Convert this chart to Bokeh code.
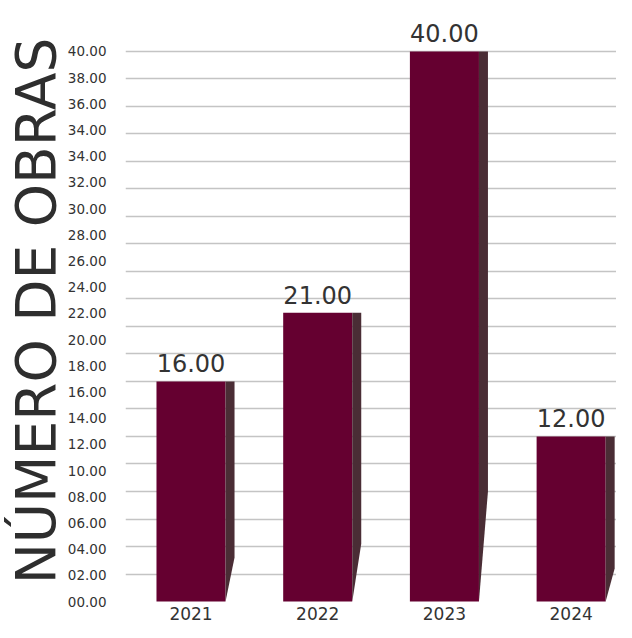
import numpy as np
from bokeh.plotting import figure
from bokeh.models import FixedTicker, Range1d, CustomJSTickFormatter, LabelSet, ColumnDataSource
from bokeh.embed import file_html
from bokeh.resources import INLINE
from bokeh.core.properties import value

# ---- data ----
years = ["2021", "2022", "2023", "2024"]
obras = [16, 21, 40, 12]
y_tick_labels = ["00.00", "02.00", "04.00", "06.00", "08.00", "10.00", "12.00",
                 "14.00", "16.00", "18.00", "20.00", "22.00", "24.00", "26.00",
                 "28.00", "30.00", "32.00", "34.00", "34.00", "36.00", "38.00",
                 "40.00"]
grid_values = list(range(2, 41, 2))
y_title = "NÚMERO DE OBRAS"

FONT = "DejaVu Sans"
BAR = "#650030"
SHADE = "#4a2d35"
TXT = "#333333"

y_max = 40
idx = list(range(len(years)))
bar_w = 0.545
shade_w = 0.071

p = figure(width=616, height=622,
           x_range=Range1d(-0.517, 3.358), y_range=Range1d(-1.452, 43.70),
           output_backend="svg", toolbar_location=None,
           min_border_left=125, min_border_right=0,
           min_border_top=0, min_border_bottom=0)
p.outline_line_color = None
p.background_fill_color = "white"
p.border_fill_color = "white"

# grid
p.xgrid.visible = False
p.ygrid.ticker = FixedTicker(ticks=grid_values)
p.ygrid.grid_line_color = "#c4c4c4"
p.ygrid.grid_line_width = 1.6

# bars (front face)
p.vbar(x=idx, top=obras, bottom=0, width=bar_w,
       fill_color=BAR, line_color=None)

# side shading for the pseudo-3D look
xs, ys = [], []
for i, v in zip(idx, obras):
    xr = i + bar_w / 2
    xs.append([xr, xr + shade_w, xr + shade_w, xr])
    ys.append([v, v, 0.2 * v, 0])
p.patches(xs, ys, fill_color=SHADE, line_color=None)

# value labels
src = ColumnDataSource(dict(x=idx, y=obras, t=[f"{v:.2f}" for v in obras]))
p.add_layout(LabelSet(x="x", y="y", text="t", source=src,
                      text_align="center", text_baseline="alphabetic",
                      y_offset=9, text_font=value(FONT),
                      text_font_size="24px", text_color=TXT))

# y axis
yticks = list(np.linspace(0, y_max, len(y_tick_labels)))
p.yaxis.ticker = FixedTicker(ticks=yticks)
p.yaxis.formatter = CustomJSTickFormatter(
    args=dict(labels=y_tick_labels, top=y_max),
    code="return labels[Math.round(tick * (labels.length - 1) / top)];")
p.yaxis.axis_line_color = None
p.yaxis.major_tick_line_color = None
p.yaxis.minor_tick_line_color = None
p.yaxis.major_label_standoff = 13
p.yaxis.major_label_text_font = FONT
p.yaxis.major_label_text_font_size = "13.5px"
p.yaxis.major_label_text_color = TXT
p.yaxis.axis_label = y_title
p.yaxis.axis_label_text_font = FONT
p.yaxis.axis_label_text_font_size = "55px"
p.yaxis.axis_label_text_font_style = "normal"
p.yaxis.axis_label_text_color = "#2e2e2e"
p.yaxis.axis_label_standoff = -3

# x axis (labels drawn over the bottom strip of the frame)
p.xaxis.ticker = FixedTicker(ticks=idx)
p.xaxis.major_label_overrides = {i: y for i, y in zip(idx, years)}
p.xaxis.axis_line_color = None
p.xaxis.major_tick_line_color = None
p.xaxis.minor_tick_line_color = None
p.xaxis.major_label_standoff = -21
p.xaxis.major_label_text_font = FONT
p.xaxis.major_label_text_font_size = "17px"
p.xaxis.major_label_text_color = TXT

open("out.html", "w").write(file_html(p, INLINE))
